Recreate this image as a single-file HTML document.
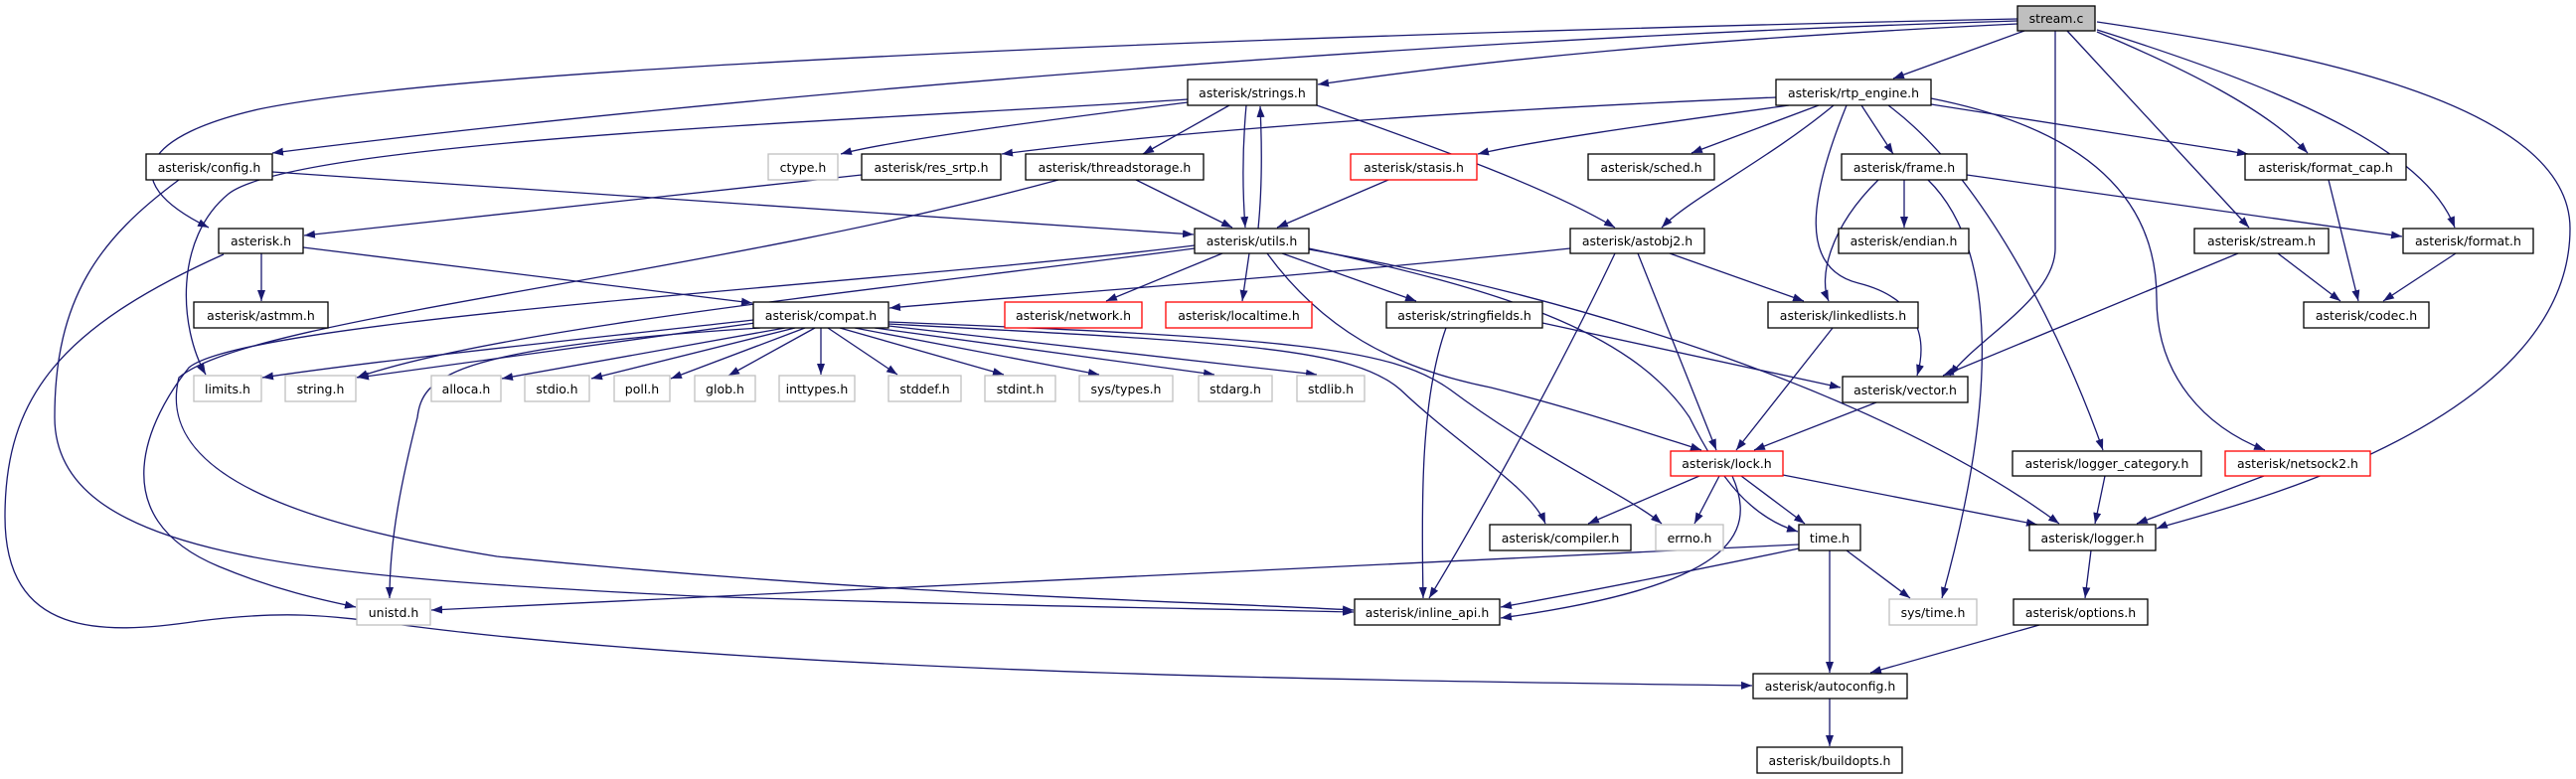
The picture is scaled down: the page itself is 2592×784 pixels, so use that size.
<!DOCTYPE html>
<html><head><meta charset="utf-8"><style>
html,body{margin:0;padding:0;background:#fff;}
svg{display:block;}
text{font-family:"DejaVu Sans","Liberation Sans",sans-serif;font-size:12.5px;fill:#000;text-anchor:middle;}
.e{fill:none;stroke:#191970;stroke-width:1.3;marker-end:url(#a);}
.n{fill:#fff;stroke:#000;stroke-width:1.3;}
.g{fill:#fff;stroke:#bfbfbf;stroke-width:1.3;}
.r{fill:#fff;stroke:#ff0000;stroke-width:1.3;}
</style></head><body>
<svg width="2592" height="784" viewBox="0 0 2592 784" xmlns="http://www.w3.org/2000/svg">
<defs><marker id="a" markerUnits="userSpaceOnUse" markerWidth="11" markerHeight="8" refX="11" refY="4" orient="auto"><path d="M0,0 L11,4 L0,8 z" fill="#191970"/></marker></defs>
<g>
<path class="e" d="M2030,19 C1500,30 500,60 260,110 C150,135 110,180 210,229"/>
<path class="e" d="M2030,21 C1400,40 700,100 274,154"/>
<path class="e" d="M2030,24 C1700,40 1500,60 1326,85"/>
<path class="e" d="M2037,31 L1905,79"/>
<path class="e" d="M2068,31 L2068,250 C2068,300 1990,340 1962,378"/>
<path class="e" d="M2080,31 L2263,229"/>
<path class="e" d="M2110,32 C2200,70 2280,110 2322,154"/>
<path class="e" d="M2110,30 C2300,90 2440,150 2470,229"/>
<path class="e" d="M2110,22 C2300,50 2586,100 2586,230 C2586,440 2200,520 2170,532"/>
<path class="e" d="M1195,100 C900,120 300,140 230,195 C175,240 180,330 207,377"/>
<path class="e" d="M1195,103 C1100,115 900,140 846,155"/>
<path class="e" d="M1237,106 L1150,155"/>
<path class="e" d="M1254,106 C1250,150 1250,190 1253,229"/>
<path class="e" d="M1266,230 C1270,190 1270,150 1268,107"/>
<path class="e" d="M1325,106 C1450,150 1560,190 1625,229"/>
<path class="e" d="M1787,98 C1500,110 1200,130 1008,155"/>
<path class="e" d="M1800,106 C1700,120 1550,140 1487,155"/>
<path class="e" d="M1830,106 L1702,154"/>
<path class="e" d="M1845,106 C1780,160 1700,200 1672,229"/>
<path class="e" d="M1873,106 L1905,155"/>
<path class="e" d="M1858,106 C1820,200 1810,270 1870,285 C1930,300 1940,340 1929,378"/>
<path class="e" d="M1943,105 L2262,155"/>
<path class="e" d="M1900,106 C2000,180 2080,350 2116,453"/>
<path class="e" d="M1943,99 C2100,130 2170,200 2170,300 C2170,380 2220,430 2279,453"/>
<path class="e" d="M867,176 L306,237"/>
<path class="e" d="M1143,181 L1240,229"/>
<path class="e" d="M1065,181 C700,280 250,320 180,380 C160,460 250,520 500,560 C900,600 1200,605 1362,614"/>
<path class="e" d="M274,173 L1201,236"/>
<path class="e" d="M180,181 C100,240 55,300 55,420 C55,560 300,580 700,600 C1000,610 1200,612 1362,616"/>
<path class="e" d="M263,255 L263,303"/>
<path class="e" d="M305,249 L757,305"/>
<path class="e" d="M225,256 C60,330 5,400 5,520 C5,640 100,640 200,625 C320,610 350,625 500,640 C900,680 1400,685 1763,690"/>
<path class="e" d="M1397,181 L1285,229"/>
<path class="e" d="M1230,255 L1113,303"/>
<path class="e" d="M1257,255 L1250,303"/>
<path class="e" d="M1290,255 L1425,303"/>
<path class="e" d="M1202,250 C900,290 500,330 359,380"/>
<path class="e" d="M1202,247 C900,285 250,320 190,370 C150,420 100,520 220,570 C280,595 330,605 358,611"/>
<path class="e" d="M1275,255 C1330,330 1400,370 1500,390 C1580,410 1640,430 1712,453"/>
<path class="e" d="M1317,250 C1500,290 1640,330 1700,420 C1730,480 1760,520 1809,535"/>
<path class="e" d="M1317,251 C1600,300 1900,400 2072,527"/>
<path class="e" d="M1580,250 C1300,280 1000,300 895,310"/>
<path class="e" d="M1680,255 L1815,303"/>
<path class="e" d="M1648,255 L1727,453"/>
<path class="e" d="M1625,255 C1580,350 1500,500 1438,602"/>
<path class="e" d="M1552,325 L1852,390"/>
<path class="e" d="M1455,330 C1430,400 1430,500 1432,602"/>
<path class="e" d="M1916,181 L1916,229"/>
<path class="e" d="M1890,181 C1840,230 1830,280 1840,303"/>
<path class="e" d="M1940,181 C2010,250 2010,400 1954,602"/>
<path class="e" d="M1979,176 L2417,238"/>
<path class="e" d="M2292,255 L2355,303"/>
<path class="e" d="M2252,255 L1955,378"/>
<path class="e" d="M2343,181 L2373,303"/>
<path class="e" d="M2471,255 L2398,303"/>
<path class="e" d="M1844,330 L1747,453"/>
<path class="e" d="M1888,405 L1765,453"/>
<path class="e" d="M1710,479 L1598,527"/>
<path class="e" d="M1730,479 L1705,527"/>
<path class="e" d="M1752,479 L1816,527"/>
<path class="e" d="M1794,478 L2050,528"/>
<path class="e" d="M1743,479 C1770,540 1740,590 1510,622"/>
<path class="e" d="M1810,548 C1300,575 800,600 434,614"/>
<path class="e" d="M1810,552 C1700,575 1600,595 1510,611"/>
<path class="e" d="M1858,554 L1922,602"/>
<path class="e" d="M1841,554 L1841,677"/>
<path class="e" d="M2104,554 L2098,602"/>
<path class="e" d="M2052,629 L1882,677"/>
<path class="e" d="M1841,703 L1841,751"/>
<path class="e" d="M2118,479 L2108,527"/>
<path class="e" d="M2278,479 L2150,527"/>
<path class="e" d="M758,322 C600,340 400,360 264,380"/>
<path class="e" d="M760,325 L360,380"/>
<path class="e" d="M790,330 L505,381"/>
<path class="e" d="M800,330 L595,381"/>
<path class="e" d="M810,330 L675,381"/>
<path class="e" d="M820,330 L733,378"/>
<path class="e" d="M826,330 L826,377"/>
<path class="e" d="M833,330 L903,377"/>
<path class="e" d="M845,330 L1010,377"/>
<path class="e" d="M860,330 L1106,377"/>
<path class="e" d="M880,330 L1222,377"/>
<path class="e" d="M894,328 L1325,377"/>
<path class="e" d="M894,326 C1250,345 1360,350 1409,392 C1470,450 1540,490 1555,527"/>
<path class="e" d="M894,324 C1300,340 1400,350 1459,392 C1550,460 1640,500 1672,527"/>
<path class="e" d="M765,330 C450,350 425,380 420,420 C405,480 392,540 392,602"/>
</g>
<g>
<rect x="2030" y="6" width="78" height="25" fill="#bfbfbf" stroke="#000" stroke-width="1.3"/><text x="2069" y="23">stream.c</text>
<rect class="n" x="1195" y="80" width="130" height="26"/><text x="1260" y="98">asterisk/strings.h</text>
<rect class="n" x="1787" y="80" width="156" height="26"/><text x="1865" y="98">asterisk/rtp_engine.h</text>
<rect class="n" x="147" y="155" width="127" height="26"/><text x="210.5" y="173">asterisk/config.h</text>
<rect class="g" x="773" y="155" width="70" height="26"/><text x="808" y="173">ctype.h</text>
<rect class="n" x="867" y="155" width="140" height="26"/><text x="937" y="173">asterisk/res_srtp.h</text>
<rect class="n" x="1032" y="155" width="179" height="26"/><text x="1121.5" y="173">asterisk/threadstorage.h</text>
<rect class="r" x="1359" y="155" width="127" height="26"/><text x="1422.5" y="173">asterisk/stasis.h</text>
<rect class="n" x="1598" y="155" width="127" height="26"/><text x="1661.5" y="173">asterisk/sched.h</text>
<rect class="n" x="1853" y="155" width="126" height="26"/><text x="1916" y="173">asterisk/frame.h</text>
<rect class="n" x="2259" y="155" width="162" height="26"/><text x="2340" y="173">asterisk/format_cap.h</text>
<rect class="n" x="220" y="230" width="85" height="25"/><text x="262.5" y="247">asterisk.h</text>
<rect class="n" x="1202" y="230" width="115" height="25"/><text x="1259.5" y="247">asterisk/utils.h</text>
<rect class="n" x="1580" y="230" width="135" height="25"/><text x="1647.5" y="247">asterisk/astobj2.h</text>
<rect class="n" x="1850" y="230" width="131" height="25"/><text x="1915.5" y="247">asterisk/endian.h</text>
<rect class="n" x="2208" y="230" width="135" height="25"/><text x="2275.5" y="247">asterisk/stream.h</text>
<rect class="n" x="2418" y="230" width="131" height="25"/><text x="2483.5" y="247">asterisk/format.h</text>
<rect class="n" x="195" y="304" width="135" height="26"/><text x="262.5" y="322">asterisk/astmm.h</text>
<rect class="n" x="758" y="304" width="136" height="26"/><text x="826" y="322">asterisk/compat.h</text>
<rect class="r" x="1011" y="304" width="138" height="26"/><text x="1080" y="322">asterisk/network.h</text>
<rect class="r" x="1173" y="304" width="147" height="26"/><text x="1246.5" y="322">asterisk/localtime.h</text>
<rect class="n" x="1395" y="304" width="157" height="26"/><text x="1473.5" y="322">asterisk/stringfields.h</text>
<rect class="n" x="1779" y="304" width="151" height="26"/><text x="1854.5" y="322">asterisk/linkedlists.h</text>
<rect class="n" x="2318" y="304" width="126" height="26"/><text x="2381" y="322">asterisk/codec.h</text>
<rect class="g" x="195" y="378" width="68" height="26"/><text x="229" y="396">limits.h</text>
<rect class="g" x="287" y="378" width="71" height="26"/><text x="322.5" y="396">string.h</text>
<rect class="g" x="434" y="378" width="70" height="26"/><text x="469" y="396">alloca.h</text>
<rect class="g" x="528" y="378" width="65" height="26"/><text x="560.5" y="396">stdio.h</text>
<rect class="g" x="618" y="378" width="56" height="26"/><text x="646" y="396">poll.h</text>
<rect class="g" x="699" y="378" width="61" height="26"/><text x="729.5" y="396">glob.h</text>
<rect class="g" x="784" y="378" width="76" height="26"/><text x="822" y="396">inttypes.h</text>
<rect class="g" x="894" y="378" width="73" height="26"/><text x="930.5" y="396">stddef.h</text>
<rect class="g" x="991" y="378" width="71" height="26"/><text x="1026.5" y="396">stdint.h</text>
<rect class="g" x="1086" y="378" width="94" height="26"/><text x="1133" y="396">sys/types.h</text>
<rect class="g" x="1206" y="378" width="74" height="26"/><text x="1243" y="396">stdarg.h</text>
<rect class="g" x="1305" y="378" width="68" height="26"/><text x="1339" y="396">stdlib.h</text>
<rect class="n" x="1854" y="379" width="126" height="26"/><text x="1917" y="397">asterisk/vector.h</text>
<rect class="r" x="1681" y="454" width="113" height="25"/><text x="1737.5" y="471">asterisk/lock.h</text>
<rect class="n" x="2025" y="454" width="190" height="25"/><text x="2120" y="471">asterisk/logger_category.h</text>
<rect class="r" x="2239" y="454" width="146" height="25"/><text x="2312" y="471">asterisk/netsock2.h</text>
<rect class="n" x="1499" y="528" width="142" height="26"/><text x="1570" y="546">asterisk/compiler.h</text>
<rect class="g" x="1666" y="528" width="68" height="26"/><text x="1700" y="546">errno.h</text>
<rect class="n" x="1810" y="528" width="62" height="26"/><text x="1841" y="546">time.h</text>
<rect class="n" x="2042" y="528" width="127" height="26"/><text x="2105.5" y="546">asterisk/logger.h</text>
<rect class="g" x="359" y="603" width="74" height="26"/><text x="396" y="621">unistd.h</text>
<rect class="n" x="1363" y="603" width="146" height="26"/><text x="1436" y="621">asterisk/inline_api.h</text>
<rect class="g" x="1901" y="603" width="88" height="26"/><text x="1945" y="621">sys/time.h</text>
<rect class="n" x="2026" y="603" width="135" height="26"/><text x="2093.5" y="621">asterisk/options.h</text>
<rect class="n" x="1764" y="678" width="155" height="25"/><text x="1841.5" y="695">asterisk/autoconfig.h</text>
<rect class="n" x="1768" y="752" width="146" height="26"/><text x="1841" y="770">asterisk/buildopts.h</text>
</g>
</svg>
</body></html>
